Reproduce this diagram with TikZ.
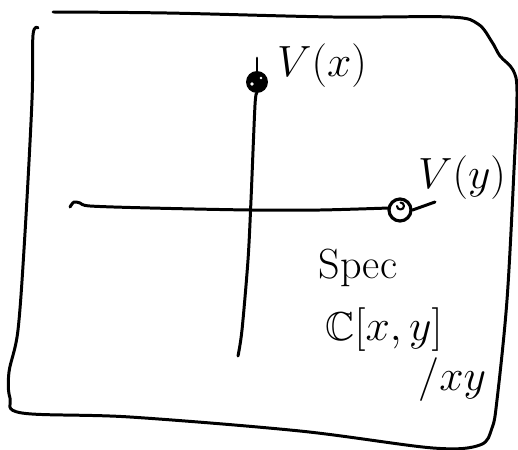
\documentclass[tikz,border=0pt]{standalone}
\usepackage{amssymb}
\begin{document}
\begin{tikzpicture}[x=0.02cm,y=-0.02cm,
  pen/.style={line width=1.7pt,line cap=round,line join=round},
  lbl/.style={inner sep=0pt,font=\fontsize{26}{30}\selectfont},
  blob/.style={circle,fill=black,minimum size=0.44cm,inner sep=0pt},
  ringdot/.style={circle,draw,line width=1.8pt,minimum size=0.44cm,inner sep=0pt}]
\useasboundingbox (0,0) rectangle (518,450);

% outer frame, one stroke with an open gap at the upper left
\draw[pen] plot[smooth,tension=0.55] coordinates {(53,12) (167,13) (333,17) (450,17) (478,24) (492,42) (500,56) (513,70) (517,92) (514,170) (507,300) (497,400) (492,428) (480,445) (433,448) (300,431) (130,417) (22,413) (10,398) (9,372) (18,330) (25,233) (32,100) (33,35) (38,28)};

% the two marked points
\node[blob] (px) at (257,82) {};
\fill[white] (252,84) circle (1.8);
\fill[white] (261,78) circle (1.4);
\node[ringdot] (py) at (400,210) {};
\draw[pen,line width=1.2pt] (397,206) arc (180:-90:3.5);

% axes through the marked points
\coordinate (vtop) at (257,58);
\coordinate (vbot) at (238,356);
\coordinate (hleft) at (70,207);
\coordinate (hright) at (435,202);
\draw[pen] (vtop) -- (px.north);
\draw[pen] plot[smooth,tension=0.5] coordinates {(px.south) (255,105) (251,200) (248,260) (242,330) (238,356)};
\draw[pen] plot[smooth,tension=0.5] coordinates {(70,207) (74,202) (80,203) (90,206) (150,208) (250,210) (320,210) (389,208)};
\draw[pen] (py.east) -- (hright);

% labels
\node[lbl] (lx) at (322,66) {$V(x)$};
\node[lbl,font=\fontsize{24}{28}\selectfont] (ly) at (462,178) {$V(y)$};
\node[lbl,font=\fontsize{24}{28}\selectfont] (spec) at (358,268) {Spec};
\node[lbl,font=\fontsize{23}{28}\selectfont] (ring) at (384,330) {$\mathbb{C}[x,y]$};
\node[lbl,font=\fontsize{23}{28}\selectfont] (quot) at (452,380) {$/xy$};
\end{tikzpicture}
\end{document}
